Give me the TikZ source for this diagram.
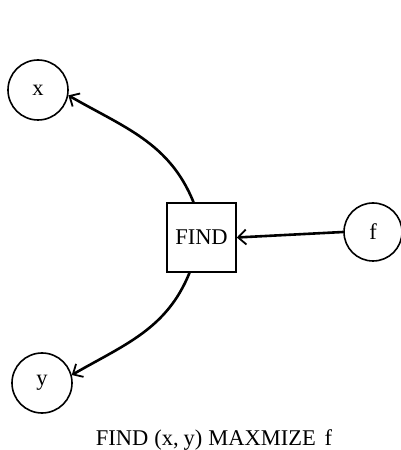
\documentclass[tikz,border=0pt]{standalone}
\usepackage{fontspec}
\setmainfont{Liberation Serif}
\usetikzlibrary{arrows.meta}
\begin{document}
\begin{tikzpicture}[x=1pt,y=1pt,
  every node/.style={font=\fontsize{22.5}{26}\selectfont},
  var/.style={circle,draw,line width=1.6pt,minimum size=60pt,inner sep=0pt},
  proc/.style={rectangle,draw,line width=1.6pt,minimum size=69pt,inner sep=0pt},
  link/.style={line width=2.6pt,-{Straight Barb[length=8pt,width=15pt,line width=1.8pt]}}]
  \useasboundingbox (0,0) rectangle (401,450);
  % variables and the search block
  \node[var]  (x)    at (38,360)      {x};
  \node[proc] (find) at (201.5,212.5) {FIND};
  \node[var,minimum size=58pt] (f) at (373,218) {f};
  \node[var]  (y)    at (42,67)       {y};
  % caption
  \node[anchor=base] (cap) at (214,5) {FIND\hspace{6pt}(x,\hspace{5pt}y)\hspace{6pt}MAXMIZE\hspace{3pt} f};
  % connectors
  \draw[link] ([xshift=-8pt]find.north) to[out=112,in=-30] (x.-10);
  \draw[link] ([xshift=-12pt]find.south) to[out=-112,in=30] (y.15);
  \draw[link] (f.west) -- (find.east);
\end{tikzpicture}
\end{document}
